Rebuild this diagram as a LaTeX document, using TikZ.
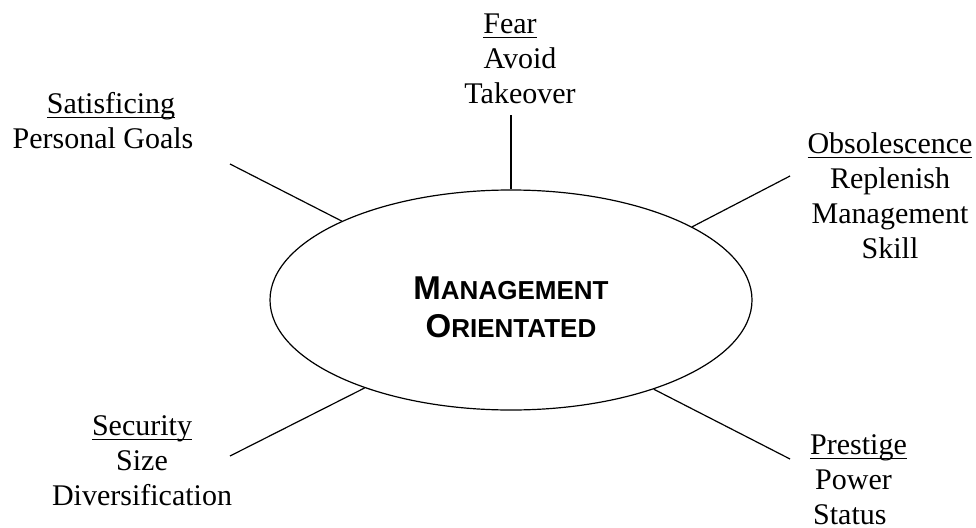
\documentclass[tikz,border=0pt]{standalone}
\usepackage{fontspec}
\setmainfont{Liberation Serif}
\newfontfamily\centerfont{Liberation Sans}
\usetikzlibrary{shapes.geometric}
\newlength\ulw
\newcommand\hdr[1]{\settowidth\ulw{#1}\rlap{\rule[-5pt]{\ulw}{1.4pt}}#1}
\newcommand\bigc[1]{{\fontsize{33}{38}\selectfont #1}}
\tikzset{
  conn/.style={line width=1.2pt},
  lbl/.style={inner sep=0pt, font=\fontsize{30}{35}\selectfont, anchor=base},
  oval/.style={ellipse, draw, line width=1.2pt, minimum width=482pt, minimum height=220pt, inner sep=0pt},
  ctext/.style={inner sep=0pt, align=center, font=\centerfont\bfseries\fontsize{26}{38}\selectfont}
}
\begin{document}
\begin{tikzpicture}[x=1pt,y=-1pt]
\useasboundingbox (0,0) rectangle (976,527);
\node[oval] (c) at (511,300) {};
\node[ctext] (ct) at (511,307) {\bigc{M}ANAGEMENT\\\bigc{O}RIENTATED};
% labels (anchored at baseline of last line)
\node[lbl, align=center] (sat) at (103,148) {\hspace*{16pt}\hdr{Satisficing}\\Personal Goals};
\node[lbl, align=center] (fear) at (520,103) {\hdr{Fear}\hspace*{20pt}\\Avoid\\Takeover};
\node[lbl, align=center] (obs) at (890,258) {\hdr{Obsolescence}\\Replenish\\Management\\Skill};
\node[lbl, align=center] (sec) at (142,505) {\hdr{Security}\\Size\\Diversification};
\node[lbl, align=left, anchor=base west] (pre) at (810,524) {\hdr{Prestige}\\\hspace*{5pt}Power\\\hspace*{3pt}Status};
% connector ends
\coordinate (satE) at (230,164);
\coordinate (fearE) at (511,115);
\coordinate (obsE) at (790,176);
\coordinate (secE) at (230,456);
\coordinate (preE) at (790,459);
\draw[conn] (satE) -- (c.155.5);
\draw[conn] (fearE) -- (c.90);
\draw[conn] (obsE) -- (c.22.5);
\draw[conn] (secE) -- (c.211.2);
\draw[conn] (preE) -- (c.328.9);
\end{tikzpicture}
\end{document}
